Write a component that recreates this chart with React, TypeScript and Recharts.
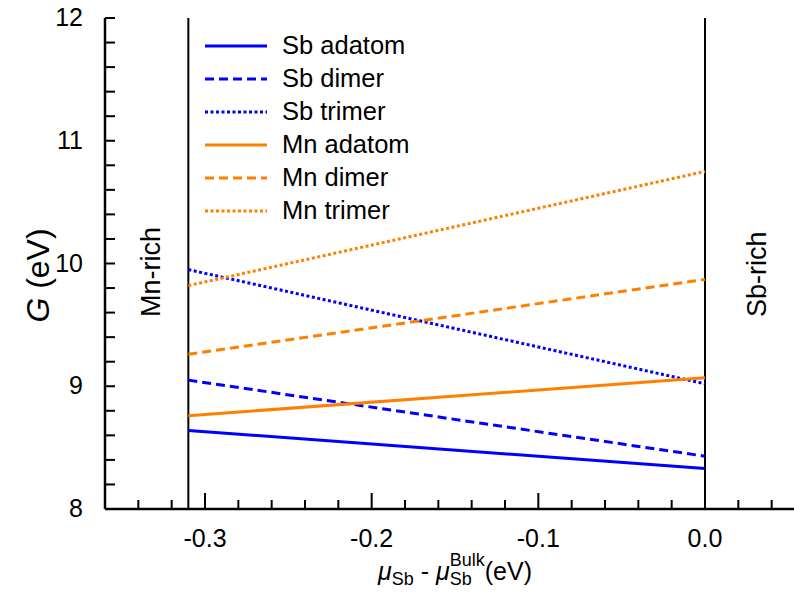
import { LineChart, Line, XAxis, YAxis, ReferenceLine, Legend } from 'recharts'

// chemical potential range where the lines are drawn
const muSb = [-0.31, 0.0]

// formation energies G (eV) at the two ends
const sbAdatom = [8.64, 8.33]
const sbDimer = [9.05, 8.43]
const sbTrimer = [9.95, 9.02]
const mnAdatom = [8.76, 9.07]
const mnDimer = [9.26, 9.87]
const mnTrimer = [9.82, 10.75]

const xTicks = [
  -0.36, -0.34, -0.32, -0.3, -0.28, -0.26, -0.24, -0.22, -0.2, -0.18, -0.16, -0.14,
  -0.12, -0.1, -0.08, -0.06, -0.04, -0.02, 0.0, 0.02, 0.04, 0.06,
]
const xMajor = [-0.3, -0.2, -0.1, 0.0]
const xTickLabels = ['-0.3', '-0.2', '-0.1', '0.0']

const yTicks = [
  8, 8.2, 8.4, 8.6, 8.8, 9, 9.2, 9.4, 9.6, 9.8, 10, 10.2, 10.4, 10.6, 10.8, 11, 11.2,
  11.4, 11.6, 11.8, 12,
]
const yMajor = [8, 9, 10, 11, 12]
const yTickLabels = ['8', '9', '10', '11', '12']

const BLUE = '#0000ff'
const ORANGE = '#ff8000'
const DASH = '9 5'
const DOT = '3 2.5'
const FONT = '"Liberation Sans", Arial, sans-serif'

const series = [
  { key: 'sbAdatom', name: 'Sb adatom', values: sbAdatom, color: BLUE, dash: undefined },
  { key: 'sbDimer', name: 'Sb dimer', values: sbDimer, color: BLUE, dash: DASH },
  { key: 'sbTrimer', name: 'Sb trimer', values: sbTrimer, color: BLUE, dash: DOT },
  { key: 'mnAdatom', name: 'Mn adatom', values: mnAdatom, color: ORANGE, dash: undefined },
  { key: 'mnDimer', name: 'Mn dimer', values: mnDimer, color: ORANGE, dash: DASH },
  { key: 'mnTrimer', name: 'Mn trimer', values: mnTrimer, color: ORANGE, dash: DOT },
]

const data = muSb.map((mu, i) => {
  const row: Record<string, number> = { mu }
  series.forEach((s) => {
    row[s.key] = s.values[i]
  })
  return row
})

const near = (a: number, b: number) => Math.abs(a - b) < 1e-6

const XTick = (props: any) => {
  const { x, y, payload } = props
  const idx = xMajor.findIndex((m) => near(m, payload.value))
  const len = idx >= 0 ? 16 : 9
  return (
    <g>
      <line x1={x} x2={x} y1={y} y2={y - len} stroke="#000" strokeWidth={2} />
      {idx >= 0 && (
        <text x={x} y={y + 38} textAnchor="middle" fontSize={25} fontFamily={FONT} fill="#000">
          {xTickLabels[idx]}
        </text>
      )}
    </g>
  )
}

const YTick = (props: any) => {
  const { x, y, payload } = props
  const idx = yMajor.findIndex((m) => near(m, payload.value))
  return (
    <g>
      <line x1={x} x2={x + 10} y1={y} y2={y} stroke="#000" strokeWidth={2} />
      {idx >= 0 && (
        <text x={x - 22} y={y + 8} textAnchor="end" fontSize={25} fontFamily={FONT} fill="#000">
          {yTickLabels[idx]}
        </text>
      )}
    </g>
  )
}

const XTitle = ({ viewBox }: any) => {
  const cx = viewBox.x + viewBox.width / 2
  const y = viewBox.y + 71
  return (
    <text x={cx} y={y} textAnchor="middle" fontSize={25} fontFamily={FONT} fill="#000">
      <tspan fontStyle="italic">μ</tspan>
      <tspan fontSize={18} dy={5}>Sb</tspan>
      <tspan dy={-5}> - </tspan>
      <tspan fontStyle="italic">μ</tspan>
      <tspan fontSize={18} dy={5}>Sb</tspan>
      <tspan fontSize={18} dx={-22} dy={-19}>Bulk</tspan>
      <tspan dy={14}>(eV)</tspan>
    </text>
  )
}

const YTitle = ({ viewBox }: any) => {
  const cx = 38
  const cy = viewBox.y + viewBox.height / 2 + 12
  return (
    <text
      x={cx}
      y={cy}
      transform={`rotate(-90 ${cx} ${cy})`}
      textAnchor="middle"
      dominantBaseline="central"
      fontSize={32}
      fontFamily={FONT}
      fill="#000"
    >
      <tspan fontStyle="italic">G</tspan> (eV)
    </text>
  )
}

const SideLabel = (text: string, dx: number) => ({ viewBox }: any) => {
  const cx = viewBox.x + dx
  const cy = 317
  return (
    <text
      x={cx}
      y={cy}
      transform={`rotate(-90 ${cx} ${cy})`}
      textAnchor="start"
      dominantBaseline="central"
      fontSize={27}
      fontFamily={FONT}
      fill="#000"
    >
      {text}
    </text>
  )
}

const LegendBox = () => (
  <div style={{ fontFamily: FONT, fontSize: 25.5, color: '#000' }}>
    {series.map((s) => (
      <div key={s.key} style={{ display: 'flex', alignItems: 'center', height: 33 }}>
        <svg width={62} height={10} style={{ marginRight: 15 }}>
          <line x1={0} x2={62} y1={5} y2={5} stroke={s.color} strokeWidth={3} strokeDasharray={s.dash} />
        </svg>
        <span style={{ lineHeight: '33px' }}>{s.name}</span>
      </div>
    ))}
  </div>
)

export default function App() {
  return (
    <div style={{ position: 'absolute', left: 0, top: 0, width: 794, height: 597, overflow: 'hidden', background: '#fff' }}>
      <LineChart width={825} height={597} data={data} margin={{ top: 18, right: 20, left: 0, bottom: 0 }}>
        <XAxis
          xAxisId="top"
          orientation="top"
          type="number"
          dataKey="mu"
          domain={[-0.36, 0.06]}
          height={0}
          tick={false}
          tickLine={false}
          axisLine={{ stroke: '#000', strokeWidth: 2.5 }}
        />
        <XAxis
          type="number"
          dataKey="mu"
          domain={[-0.36, 0.06]}
          allowDataOverflow
          ticks={xTicks}
          interval={0}
          height={88}
          tickSize={0}
          tickMargin={0}
          tickLine={false}
          tick={<XTick />}
          axisLine={{ stroke: '#000', strokeWidth: 2.5 }}
          label={{ content: (p: any) => <XTitle {...p} /> }}
        />
        <YAxis
          type="number"
          domain={[8, 12]}
          allowDataOverflow
          ticks={yTicks}
          interval={0}
          width={105}
          tickSize={0}
          tickMargin={0}
          tickLine={false}
          tick={<YTick />}
          axisLine={{ stroke: '#000', strokeWidth: 2.5 }}
          label={{ content: (p: any) => <YTitle {...p} /> }}
        />
        <ReferenceLine x={-0.31} stroke="#000" strokeWidth={2} label={{ content: SideLabel('Mn-rich', -37) }} />
        <ReferenceLine x={0} stroke="#000" strokeWidth={2} label={{ content: SideLabel('Sb-rich', 52) }} />
        {series.map((s) => (
          <Line
            key={s.key}
            dataKey={s.key}
            name={s.name}
            stroke={s.color}
            strokeWidth={3}
            strokeDasharray={s.dash}
            dot={false}
            activeDot={false}
            isAnimationActive={false}
          />
        ))}
        <Legend
          layout="vertical"
          align="center"
          verticalAlign="middle"
          wrapperStyle={{ left: 205, top: 29, width: 260 }}
          content={() => <LegendBox />}
        />
      </LineChart>
    </div>
  )
}
